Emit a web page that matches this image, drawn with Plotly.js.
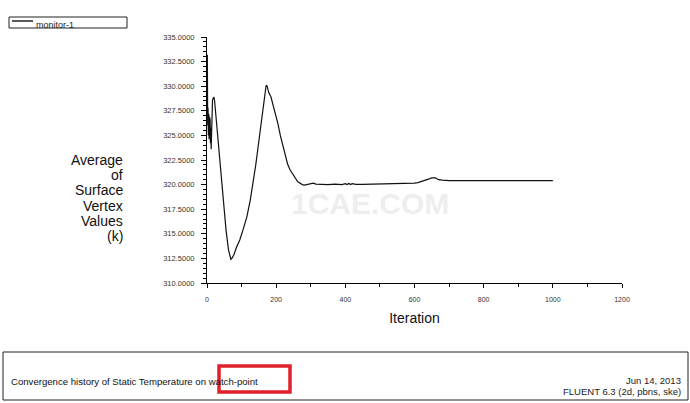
<!DOCTYPE html>
<html>
<head>
<meta charset="utf-8">
<script src="https://cdn.plot.ly/plotly-3.0.1.min.js"></script>
<style>html,body{margin:0;padding:0;background:#fff;}#chart{width:690px;height:403px;}</style>
</head>
<body>
<div id="chart"></div>
<script>
const seriesName = "monitor-1";
const iterations = [0,1,2,3,4,5,6,7,8,9,10,11,12,13,14,16,18,20,22,25,28,32,36,42,48,55,62,66,69,72,78,85,95,105,115,125,134,141,148,155,160,165,168,171,174,178,185,192,197,205,212,220,226,233,240,245,250,256,262,269,275,282,290,300,307,315,330,350,370,390,400,405,410,415,420,430,450,480,520,560,590,600,610,620,630,640,650,655,660,665,670,680,690,700,750,800,850,900,950,1000];
const temperature = [331.0,333.2,326.0,327.8,325.0,327.2,324.6,326.9,325.3,326.6,324.2,325.8,323.6,325.5,327.6,328.6,328.8,328.9,328.5,327.3,325.6,324.1,322.6,320.5,318.1,315.4,313.4,312.7,312.4,312.5,312.9,313.6,314.4,315.5,316.7,318.4,320.2,322.0,323.9,325.9,327.4,328.8,329.6,330.1,330.0,329.4,328.9,328.0,327.4,326.2,325.0,323.8,323.0,322.1,321.5,321.2,320.9,320.6,320.3,320.15,320.0,319.95,320.0,320.1,320.15,320.05,320.0,320.0,320.05,320.0,320.1,320.0,320.12,320.0,320.1,320.02,320.03,320.05,320.05,320.07,320.1,320.15,320.2,320.3,320.4,320.55,320.68,320.7,320.68,320.6,320.5,320.45,320.42,320.4,320.4,320.4,320.4,320.4,320.4,320.4];
const yTitleLines = ["Average","of","Surface","Vertex","Values","(k)"];
const xTitle = "Iteration";
const footerLeft = "Convergence history of Static Temperature on watch-point";
const footerDate = "Jun 14, 2013";
const footerSolver = "FLUENT 6.3 (2d, pbns, ske)";

const F = "Liberation Sans, Arial, sans-serif";
// plot area: x 207..622 px, y 37..283 px
const pxX = px => (px - 207) / 415;
const pxY = py => (283 - py) / 246;

const trace = {
  x: iterations, y: temperature, type: "scatter", mode: "lines", name: seriesName,
  line: {color: "#111", width: 1.2}, showlegend: false
};

const annotations = [
  {xref: "paper", yref: "paper", x: pxX(34), y: pxY(25), xanchor: "left", yanchor: "middle", showarrow: false,
   text: seriesName, font: {size: 9, color: "#222", family: F}},
  {xref: "paper", yref: "paper", x: pxX(9), y: pxY(381), xanchor: "left", yanchor: "middle", showarrow: false,
   text: footerLeft, font: {size: 9.6, color: "#111", family: F}},
  {xref: "paper", yref: "paper", x: pxX(683), y: pxY(380), xanchor: "right", yanchor: "middle", showarrow: false,
   text: footerDate, font: {size: 9.5, color: "#222", family: F}},
  {xref: "paper", yref: "paper", x: pxX(683), y: pxY(391), xanchor: "right", yanchor: "middle", showarrow: false,
   text: footerSolver, font: {size: 9.5, color: "#222", family: F}},
  {xref: "paper", yref: "paper", x: pxX(370), y: pxY(203), xanchor: "center", yanchor: "middle", showarrow: false,
   text: "1CAE.COM", font: {size: 30, color: "rgba(228,228,228,0.6)", family: F, weight: "bold"}}
];
yTitleLines.forEach((t, i) => {
  annotations.push({xref: "paper", yref: "paper", x: pxX(125), y: pxY(160 + i * 15.2), xanchor: "right", yanchor: "middle",
    showarrow: false, text: t, font: {size: 14, color: "#111", family: F}});
});

const layout = {
  width: 690, height: 403,
  margin: {l: 207, r: 68, t: 37, b: 120},
  paper_bgcolor: "#fff", plot_bgcolor: "#fff",
  font: {family: F, color: "#000"},
  xaxis: {
    range: [0, 1200], dtick: 200, tick0: 0, showgrid: false, zeroline: false,
    showline: true, linecolor: "#000", linewidth: 1,
    ticks: "outside", ticklen: 4, tickcolor: "#000",
    minor: {dtick: 100, ticks: "outside", ticklen: 3, tickcolor: "#000", showgrid: false},
    tickfont: {size: 7, color: "#333", family: F}, ticklabelstandoff: 6,
    title: {text: xTitle, font: {size: 14, color: "#111", family: F}, standoff: 10}
  },
  yaxis: {
    range: [310, 335], dtick: 2.5, tick0: 310, tickformat: ".4f", showgrid: false, zeroline: false,
    showline: true, linecolor: "#000", linewidth: 1,
    ticks: "outside", ticklen: 5, tickcolor: "#000",
    minor: {dtick: 0.5, ticks: "outside", ticklen: 3, tickcolor: "#000", showgrid: false},
    tickfont: {size: 7.5, color: "#333", family: F}, ticklabelstandoff: 5
  },
  shapes: [
    {type: "rect", xref: "paper", yref: "paper", x0: pxX(9), x1: pxX(127), y0: pxY(28), y1: pxY(17), line: {color: "#222", width: 1}},
    {type: "line", xref: "paper", yref: "paper", x0: pxX(12), x1: pxX(33), y0: pxY(21), y1: pxY(21), line: {color: "#222", width: 1.5}},
    {type: "rect", xref: "paper", yref: "paper", x0: pxX(3), x1: pxX(688), y0: pxY(400), y1: pxY(352), line: {color: "#222", width: 1}},
    {type: "rect", xref: "paper", yref: "paper", x0: pxX(219), x1: pxX(290), y0: pxY(392), y1: pxY(366), line: {color: "#e0202a", width: 3.5}}
  ],
  annotations: annotations
};

Plotly.newPlot("chart", [trace], layout, {staticPlot: true, displayModeBar: false});
</script>
</body>
</html>
